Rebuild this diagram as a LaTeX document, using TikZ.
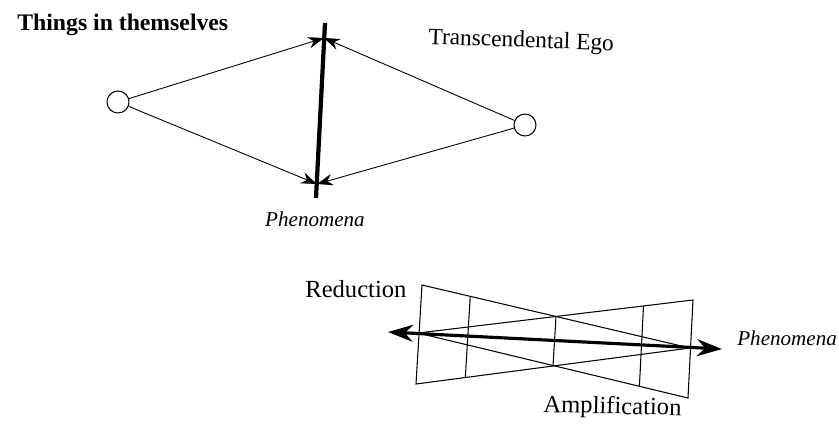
\documentclass[tikz,border=0pt]{standalone}
\usepackage{fontspec}
\setmainfont{Liberation Serif}
\usepackage{tikz}
\usetikzlibrary{positioning, arrows.meta, calc}

\begin{document}
\begin{tikzpicture}[
    x=0.02cm, y=-0.02cm,
    font=\fontsize{14}{16}\selectfont,
    ring/.style={circle, draw, line width=0.6pt, minimum size=0.44cm, inner sep=0pt},
    ray/.style={-{Stealth[length=9pt, width=6.5pt]}, line width=0.5pt},
    bar/.style={line width=2.4pt},
    wedge/.style={line width=0.6pt, line join=miter},
    bigarr/.style={{Stealth[length=0.5cm, width=0.34cm]}-{Stealth[length=0.5cm, width=0.34cm]}, line width=1.8pt},
    lbl/.style={anchor=base west, inner sep=0pt},
    ital/.style={font=\fontsize{12}{14}\selectfont\itshape}
]
\useasboundingbox (0,0) rectangle (839,427);

% upper figure
\node[ring] (thing) at (118,102) {};
\node[ring] (ego)   at (525,125) {};
\coordinate (phtop)   at (325,23);
\coordinate (phbot)   at (316,198);
\coordinate (hitup)   at (324,38);
\coordinate (hitdown) at (317,184);

\draw[bar] (phtop) -- (phbot);
\draw[ray] (thing) -- (hitup);
\draw[ray] (thing) -- (hitdown);
\draw[ray] (ego) -- (hitup);
\draw[ray] (ego) -- (hitdown);

\node[lbl, font=\fontsize{13.5}{15}\selectfont\bfseries] (things) at (17,30) {Things in themselves};
\node[lbl, font=\fontsize{13.3}{15}\selectfont, rotate=-2] (tego) at (428,44) {Transcendental Ego};
\node[ital, anchor=base, inner sep=0pt] (phen) at (315,226) {Phenomena};

% lower figure
\coordinate (A) at (422,285);
\coordinate (B) at (416,384);
\coordinate (P) at (690,348);
\coordinate (C) at (693,300);
\coordinate (D) at (688,398);
\coordinate (Q) at (418,333);

\draw[wedge] (P) -- (A) -- (B) -- cycle;
\draw[wedge] (Q) -- (C) -- (D) -- cycle;
\draw[wedge] ($(A)!0.18!(P)$) -- ($(B)!0.18!(P)$);
\draw[wedge] ($(A)!0.5!(P)$) -- ($(B)!0.5!(P)$);
\draw[wedge] ($(C)!0.18!(Q)$) -- ($(D)!0.18!(Q)$);

\coordinate (lt) at (388,332);
\coordinate (rt) at (722,349);
\draw[bigarr] (lt) -- (rt);

\node[lbl] (red) at (305,297) {Reduction};
\node[lbl, rotate=-1.5] (amp) at (543,412) {Amplification};
\node[lbl, ital] (phen2) at (737,345) {Phenomena};
\end{tikzpicture}
\end{document}
